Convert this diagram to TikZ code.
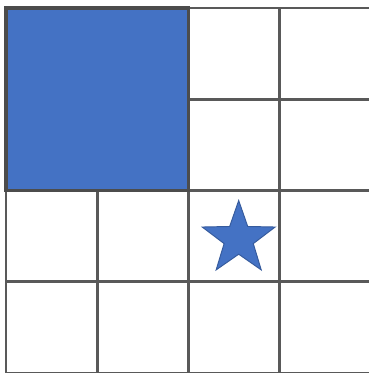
\documentclass[tikz,border=0pt]{standalone}
\usepackage{tikz}
\usetikzlibrary{shapes.geometric}
\definecolor{cellblue}{HTML}{4472C4}

\begin{document}
\begin{tikzpicture}[gridline/.style={draw=black!65, line width=0.8pt},
	mark star/.style={star, star points=5, star point ratio=2.5, fill=cellblue, draw=cellblue!80!black, line width=0.3pt, inner sep=0pt, minimum size=0.84cm}]
	\useasboundingbox (-0.066,0) rectangle (3.978,4.088);
	\fill[white] (-0.066,0) rectangle (3.978,4.088);
	% grid of 4 by 4 cells
	\foreach \x in {0,...,4} {
		\draw[gridline] (\x,0) -- (\x,4);
	}
	\foreach \y in {0,...,4} {
		\draw[gridline] (0,\y) -- (4,\y);
	}
	% filled block, top left
	\fill[cellblue] (0,2) rectangle (2,4);
	\draw[line width=1.2pt, draw=black!70] (0,2) rectangle (2,4);
	\node[mark star] (goal) at (2.55,1.47) {};
\end{tikzpicture}
\end{document}
